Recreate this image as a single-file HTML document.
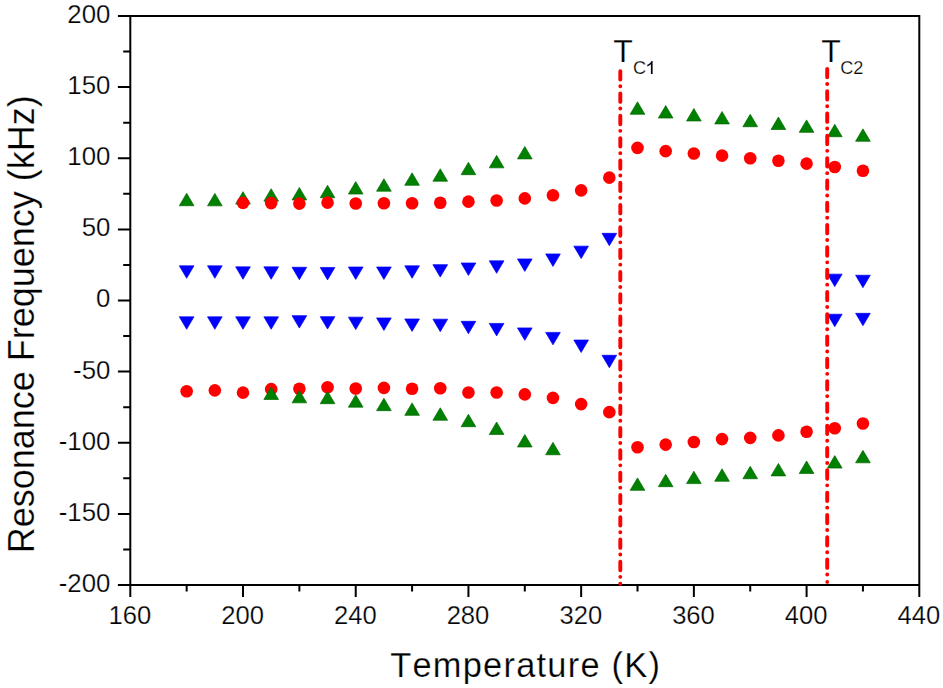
<!DOCTYPE html>
<html><head><meta charset="utf-8"><title>Resonance Frequency vs Temperature</title>
<style>
html,body{margin:0;padding:0;background:#fff;}
body{width:943px;height:688px;overflow:hidden;}
svg{display:block;}
text{font-family:"Liberation Sans",sans-serif;fill:#000;font-kerning:none;stroke:#fff;stroke-width:0.25px;}
</style></head><body>
<svg width="943" height="688" viewBox="0 0 943 688">
<rect width="943" height="688" fill="#fff"/>
<path d="M117.9 16H919.3V596.9M130.3 16V596.9M117.9 585H919.3" fill="none" stroke="#000" stroke-width="2"/>
<path d="M117.9 513.88H130.3M117.9 442.75H130.3M117.9 371.62H130.3M117.9 300.50H130.3M117.9 229.38H130.3M117.9 158.25H130.3M117.9 87.12H130.3M123.2 549.44H130.3M123.2 478.31H130.3M123.2 407.19H130.3M123.2 336.06H130.3M123.2 264.94H130.3M123.2 193.81H130.3M123.2 122.69H130.3M123.2 51.56H130.3M243.01 585V596.9M355.73 585V596.9M468.44 585V596.9M581.16 585V596.9M693.87 585V596.9M806.59 585V596.9M186.66 585V591.4M299.37 585V591.4M412.09 585V591.4M524.80 585V591.4M637.51 585V591.4M750.23 585V591.4M862.94 585V591.4" fill="none" stroke="#000" stroke-width="2"/>
<g font-size="25.8">
<text x="110.4" y="591.9" text-anchor="end">-200</text>
<text x="110.4" y="520.8" text-anchor="end">-150</text>
<text x="110.4" y="449.6" text-anchor="end">-100</text>
<text x="110.4" y="378.5" text-anchor="end">-50</text>
<text x="110.4" y="307.4" text-anchor="end">0</text>
<text x="110.4" y="236.3" text-anchor="end">50</text>
<text x="110.4" y="165.2" text-anchor="end">100</text>
<text x="110.4" y="94.0" text-anchor="end">150</text>
<text x="110.4" y="22.9" text-anchor="end">200</text>
<text x="129.9" y="624.2" text-anchor="middle" font-size="25.6">160</text>
<text x="242.6" y="624.2" text-anchor="middle" font-size="25.6">200</text>
<text x="355.3" y="624.2" text-anchor="middle" font-size="25.6">240</text>
<text x="468.0" y="624.2" text-anchor="middle" font-size="25.6">280</text>
<text x="580.8" y="624.2" text-anchor="middle" font-size="25.6">320</text>
<text x="693.5" y="624.2" text-anchor="middle" font-size="25.6">360</text>
<text x="806.2" y="624.2" text-anchor="middle" font-size="25.6">400</text>
<text x="918.9" y="624.2" text-anchor="middle" font-size="25.6">440</text>
</g>
<text x="390.2" y="676.6" font-size="34.4" letter-spacing="1.25">Temperature (K)</text>
<text transform="translate(34.3 553.3) rotate(-90) scale(1 1.045)" font-size="36" letter-spacing="0">Resonance Frequency (kHz)</text>
<text x="613.2" y="61.6" font-size="32">T</text><text x="633.1" y="73.7" font-size="18.2">C</text>
<path d="M652.6 73.9H650.9V64.3C650.2 65 648.6 66 647.3 66.4V64.8C649 64.1 650.8 62.7 651.5 61H652.6Z" fill="#000"/>
<text x="821.3" y="61.6" font-size="32">T</text><text x="840.2" y="73.7" font-size="18.2">C2</text>
<g fill="#008000" stroke="#006800" stroke-width="0.7"><path d="M179.31 205.73H194.00L186.66 193.28Z"/><path d="M207.49 205.83H222.18L214.84 193.38Z"/><path d="M235.67 204.10H250.36L243.01 191.65Z"/><path d="M263.85 201.21H278.54L271.19 188.76Z"/><path d="M292.03 199.99H306.72L299.37 187.53Z"/><path d="M320.21 197.70H334.89L327.55 185.25Z"/><path d="M348.38 194.04H363.07L355.73 181.59Z"/><path d="M376.56 191.20H391.25L383.91 178.75Z"/><path d="M404.74 185.31H419.43L412.09 172.86Z"/><path d="M432.92 181.24H447.61L440.26 168.79Z"/><path d="M461.10 174.68H475.79L468.44 162.23Z"/><path d="M489.28 167.82H503.97L496.62 155.37Z"/><path d="M517.46 158.88H532.14L524.80 146.43Z"/><path d="M630.17 114.29H644.86L637.51 101.84Z"/><path d="M658.35 118.03H673.04L665.69 105.58Z"/><path d="M686.53 120.98H701.22L693.87 108.53Z"/><path d="M714.71 123.92H729.39L722.05 111.47Z"/><path d="M742.88 126.72H757.57L750.23 114.27Z"/><path d="M771.06 129.51H785.75L778.41 117.06Z"/><path d="M799.24 132.35H813.93L806.59 119.91Z"/><path d="M827.42 136.73H842.11L834.76 124.28Z"/><path d="M855.60 141.31H870.29L862.94 128.86Z"/></g>
<g fill="#ff0000"><circle cx="243.01" cy="202.87" r="6.3"/><circle cx="271.19" cy="203.12" r="6.3"/><circle cx="299.37" cy="203.58" r="6.3"/><circle cx="327.55" cy="202.67" r="6.3"/><circle cx="355.73" cy="203.48" r="6.3"/><circle cx="383.91" cy="203.28" r="6.3"/><circle cx="412.09" cy="203.28" r="6.3"/><circle cx="440.26" cy="202.72" r="6.3"/><circle cx="468.44" cy="201.65" r="6.3"/><circle cx="496.62" cy="200.43" r="6.3"/><circle cx="524.80" cy="198.39" r="6.3"/><circle cx="552.98" cy="195.20" r="6.3"/><circle cx="581.16" cy="190.37" r="6.3"/><circle cx="609.34" cy="177.66" r="6.3"/><circle cx="637.51" cy="147.89" r="6.3"/><circle cx="665.69" cy="151.14" r="6.3"/><circle cx="693.87" cy="153.53" r="6.3"/><circle cx="722.05" cy="155.67" r="6.3"/><circle cx="750.23" cy="158.25" r="6.3"/><circle cx="778.41" cy="160.69" r="6.3"/><circle cx="806.59" cy="163.64" r="6.3"/><circle cx="834.76" cy="167.00" r="6.3"/><circle cx="862.94" cy="170.80" r="6.3"/></g>
<g fill="#0000ff" stroke="#0000f0" stroke-width="0.7"><path d="M179.31 265.83H194.00L186.66 278.28Z"/><path d="M207.49 265.84H222.18L214.84 278.29Z"/><path d="M235.67 266.85H250.36L243.01 279.30Z"/><path d="M263.85 266.85H278.54L271.19 279.30Z"/><path d="M292.03 267.26H306.72L299.37 279.71Z"/><path d="M320.21 267.46H334.89L327.55 279.91Z"/><path d="M348.38 267.00H363.07L355.73 279.45Z"/><path d="M376.56 267.00H391.25L383.91 279.45Z"/><path d="M404.74 265.84H419.43L412.09 278.29Z"/><path d="M432.92 264.63H447.61L440.26 277.08Z"/><path d="M461.10 262.99H475.79L468.44 275.44Z"/><path d="M489.28 260.86H503.97L496.62 273.31Z"/><path d="M517.46 258.93H532.14L524.80 271.38Z"/><path d="M545.63 253.95H560.32L552.98 266.40Z"/><path d="M573.81 246.13H588.50L581.16 258.58Z"/><path d="M601.99 233.33H616.68L609.34 245.78Z"/><path d="M827.42 274.17H842.11L834.76 286.62Z"/><path d="M855.60 275.24H870.29L862.94 287.69Z"/><path d="M179.31 316.84H194.00L186.66 329.29Z"/><path d="M207.49 316.84H222.18L214.84 329.29Z"/><path d="M235.67 316.84H250.36L243.01 329.29Z"/><path d="M263.85 316.84H278.54L271.19 329.29Z"/><path d="M292.03 315.63H306.72L299.37 328.08Z"/><path d="M320.21 316.64H334.89L327.55 329.09Z"/><path d="M348.38 317.14H363.07L355.73 329.59Z"/><path d="M376.56 317.95H391.25L383.91 330.40Z"/><path d="M404.74 318.96H419.43L412.09 331.41Z"/><path d="M432.92 319.18H447.61L440.26 331.63Z"/><path d="M461.10 321.32H475.79L468.44 333.77Z"/><path d="M489.28 323.45H503.97L496.62 335.90Z"/><path d="M517.46 327.92H532.14L524.80 340.37Z"/><path d="M545.63 332.40H560.32L552.98 344.85Z"/><path d="M573.81 340.02H588.50L581.16 352.47Z"/><path d="M601.99 355.30H616.68L609.34 367.75Z"/><path d="M827.42 314.24H842.11L834.76 326.69Z"/><path d="M855.60 313.33H870.29L862.94 325.78Z"/></g>
<g fill="#ff0000"><circle cx="186.66" cy="391.24" r="6.3"/><circle cx="214.84" cy="390.33" r="6.3"/><circle cx="243.01" cy="392.66" r="6.3"/><circle cx="271.19" cy="389.17" r="6.3"/><circle cx="299.37" cy="388.71" r="6.3"/><circle cx="327.55" cy="387.18" r="6.3"/><circle cx="355.73" cy="388.50" r="6.3"/><circle cx="383.91" cy="387.89" r="6.3"/><circle cx="412.09" cy="388.71" r="6.3"/><circle cx="440.26" cy="388.25" r="6.3"/><circle cx="468.44" cy="392.49" r="6.3"/><circle cx="496.62" cy="392.46" r="6.3"/><circle cx="524.80" cy="394.38" r="6.3"/><circle cx="552.98" cy="397.90" r="6.3"/><circle cx="581.16" cy="404.09" r="6.3"/><circle cx="609.34" cy="412.17" r="6.3"/><circle cx="637.51" cy="447.23" r="6.3"/><circle cx="665.69" cy="444.60" r="6.3"/><circle cx="693.87" cy="442.00" r="6.3"/><circle cx="722.05" cy="439.10" r="6.3"/><circle cx="750.23" cy="437.92" r="6.3"/><circle cx="778.41" cy="435.39" r="6.3"/><circle cx="806.59" cy="431.74" r="6.3"/><circle cx="834.76" cy="428.32" r="6.3"/><circle cx="862.94" cy="423.51" r="6.3"/></g>
<g fill="#008000" stroke="#006800" stroke-width="0.7"><path d="M263.85 399.48H278.54L271.19 387.03Z"/><path d="M292.03 402.84H306.72L299.37 390.39Z"/><path d="M320.21 403.70H334.89L327.55 391.25Z"/><path d="M348.38 407.16H363.07L355.73 394.71Z"/><path d="M376.56 410.66H391.25L383.91 398.21Z"/><path d="M404.74 415.33H419.43L412.09 402.88Z"/><path d="M432.92 420.22H447.61L440.26 407.77Z"/><path d="M461.10 426.71H475.79L468.44 414.26Z"/><path d="M489.28 434.45H503.97L496.62 422.00Z"/><path d="M517.46 446.98H532.14L524.80 434.53Z"/><path d="M545.63 454.76H560.32L552.98 442.31Z"/><path d="M630.17 490.32H644.86L637.51 477.88Z"/><path d="M658.35 486.67H673.04L665.69 474.22Z"/><path d="M686.53 483.62H701.22L693.87 471.17Z"/><path d="M714.71 481.28H729.39L722.05 468.83Z"/><path d="M742.88 478.73H757.57L750.23 466.28Z"/><path d="M771.06 475.89H785.75L778.41 463.44Z"/><path d="M799.24 473.45H813.93L806.59 461.00Z"/><path d="M827.42 468.06H842.11L834.76 455.62Z"/><path d="M855.60 462.79H870.29L862.94 450.34Z"/></g>
<g fill="none" stroke="#ff0000" stroke-width="3.9" stroke-linecap="round" stroke-dasharray="8.4 6.65 0.01 7.24">
<path d="M620.3 71.2V580"/><path d="M827.2 68.9V578"/>
</g>
<circle cx="620.3" cy="583.7" r="1.95" fill="#ff0000"/><circle cx="827.2" cy="581.9" r="1.85" fill="#ff0000"/>
</svg>
</body></html>
